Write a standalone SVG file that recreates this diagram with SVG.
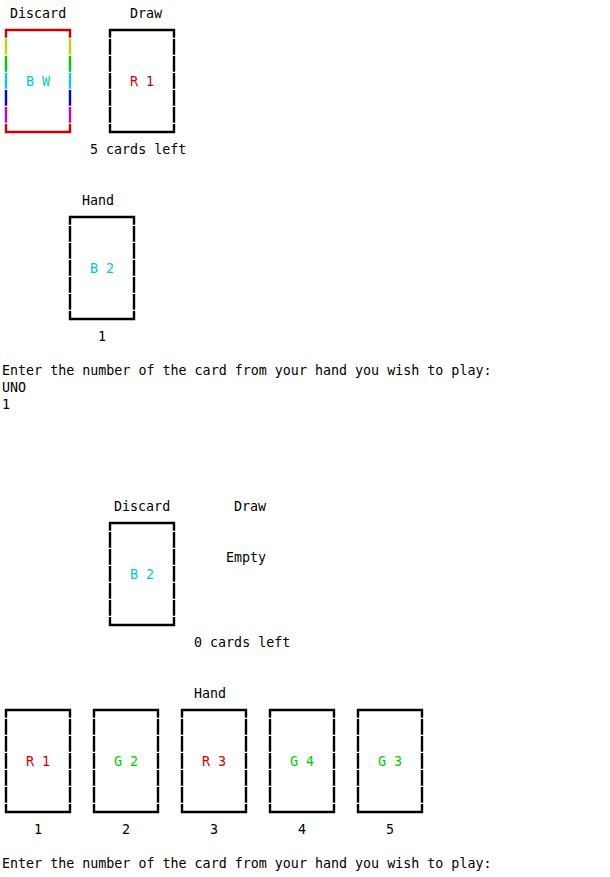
<svg xmlns="http://www.w3.org/2000/svg" xmlns:xlink="http://www.w3.org/1999/xlink" width="610" height="877" viewBox="0 0 610 877">
<style>
text{font-family:"DejaVu Sans Mono","Liberation Mono",monospace;font-size:13.33px;fill:#000;white-space:pre}
.fr{fill:none;stroke:#000;stroke-width:2.4}
.rb{fill:none;stroke-width:2.4}
.r{fill:#cd0000}.g{fill:#00cd00}.c{fill:#00cdcd}
</style>
<defs>
<path id="frame" class="fr" d="M0,7.8V0H64V7.8M0,94V102H64V94M0,9V24.8M0,26V41.8M0,43V58.8M0,60V75.8M0,77V92.8M64,9V24.8M64,26V41.8M64,43V58.8M64,60V75.8M64,77V92.8"/>
</defs>
<rect width="610" height="877" fill="#fff"/>
<g id="connectors"/>
<g id="discard-top">
<text x="10" y="18">Discard</text>
<path class="rb" stroke="#cd0000" d="M6,37.8V30H70V37.8M6,124V132H70V124"/>
<path class="rb" stroke="#cdcd00" d="M6,39V54.8M70,39V54.8"/>
<path class="rb" stroke="#00cd00" d="M6,56V71.8M70,56V71.8"/>
<path class="rb" stroke="#00cdcd" d="M6,73V88.8M70,73V88.8"/>
<path class="rb" stroke="#0000ee" d="M6,90V105.8M70,90V105.8"/>
<path class="rb" stroke="#cd00cd" d="M6,107V122.8M70,107V122.8"/>
<text class="c" x="26" y="86">B W</text>
</g>
<g id="draw-top">
<text x="130" y="18">Draw</text>
<use xlink:href="#frame" transform="translate(110,30)"/>
<text class="r" x="130" y="86">R 1</text>
<text x="90" y="154">5 cards left</text>
</g>
<g id="hand-top">
<text x="82" y="205">Hand</text>
<use xlink:href="#frame" transform="translate(70,217)"/>
<text class="c" x="90" y="273">B 2</text>
<text x="98" y="341">1</text>
</g>
<g id="prompt-1">
<text x="2" y="375">Enter the number of the card from your hand you wish to play:</text>
<text x="2" y="392">UNO</text>
<text x="2" y="409">1</text>
</g>
<g id="discard-2">
<text x="114" y="511">Discard</text>
<use xlink:href="#frame" transform="translate(110,523)"/>
<text class="c" x="130" y="579">B 2</text>
</g>
<g id="draw-2">
<text x="234" y="511">Draw</text>
<text x="226" y="562">Empty</text>
<text x="194" y="647">0 cards left</text>
</g>
<g id="hand-2">
<text x="194" y="698">Hand</text>
</g>
<g id="card-1">
<use xlink:href="#frame" transform="translate(6,710)"/>
<text class="r" x="26" y="766">R 1</text>
<text x="34" y="834">1</text>
</g>
<g id="card-2">
<use xlink:href="#frame" transform="translate(94,710)"/>
<text class="g" x="114" y="766">G 2</text>
<text x="122" y="834">2</text>
</g>
<g id="card-3">
<use xlink:href="#frame" transform="translate(182,710)"/>
<text class="r" x="202" y="766">R 3</text>
<text x="210" y="834">3</text>
</g>
<g id="card-4">
<use xlink:href="#frame" transform="translate(270,710)"/>
<text class="g" x="290" y="766">G 4</text>
<text x="298" y="834">4</text>
</g>
<g id="card-5">
<use xlink:href="#frame" transform="translate(358,710)"/>
<text class="g" x="378" y="766">G 3</text>
<text x="386" y="834">5</text>
</g>
<g id="prompt-2">
<text x="2" y="868">Enter the number of the card from your hand you wish to play:</text>
</g>
</svg>
